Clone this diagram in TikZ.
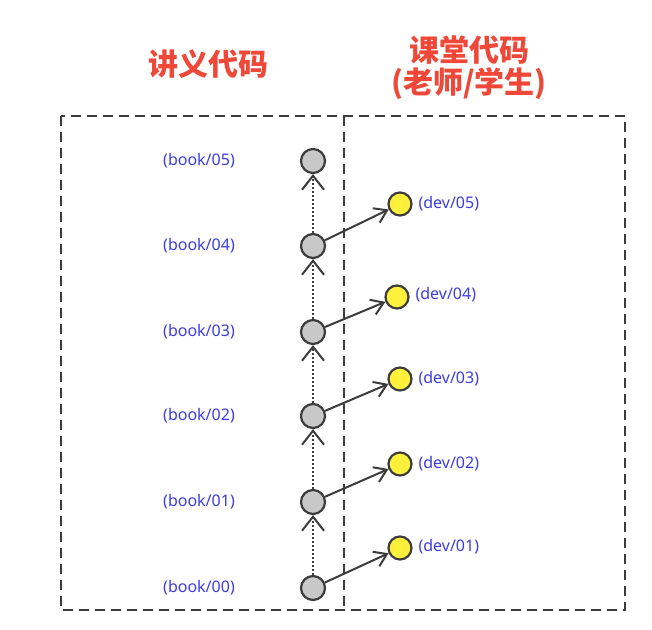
\documentclass[tikz,border=0pt]{standalone}
\usepackage{fontspec}
\setmainfont{Noto Sans}
\newfontfamily\cjk{Noto Sans CJK SC}
\usetikzlibrary{arrows.meta}
\definecolor{ttlred}{RGB}{240,72,56}
\definecolor{lblblue}{RGB}{60,60,225}
\definecolor{edge}{RGB}{60,60,60}
\definecolor{bookfill}{RGB}{200,200,200}
\definecolor{devfill}{RGB}{255,240,60}
\tikzset{
  title/.style={text=ttlred, font=\cjk\bfseries\fontsize{30}{36}\selectfont, align=center},
  book/.style={circle, draw=edge, line width=2.2pt, fill=bookfill, minimum size=24pt, inner sep=0pt},
  dev/.style={circle, draw=edge, line width=2.2pt, fill=devfill, minimum size=23pt, inner sep=0pt},
  lbl/.style={text=lblblue, font=\fontsize{16}{18}\selectfont},
  frame/.style={draw=edge, line width=2.2pt, dash pattern=on 10pt off 6pt},
  up/.style={draw=edge, line width=2pt, dash pattern=on 2pt off 2pt, -{Straight Barb[length=14pt,width=22pt,line width=2pt]}},
  fork/.style={draw=edge, line width=2pt, -{Straight Barb[length=12pt,width=16pt,line width=2pt]}}
}
\begin{document}
\begin{tikzpicture}[x=1pt,y=-1pt]
\useasboundingbox (0,0) rectangle (652,629);
\fill[white] (0,0) rectangle (652,629);
% frame
\coordinate (tl) at (61,116);
\coordinate (br) at (625,610);
\coordinate (dtop) at (344,116);
\coordinate (dbot) at (344,610);
\draw[frame] (tl) rectangle (br);
\draw[frame] (dtop) -- (dbot);
% titles
\node[title] (t1) at (208,64) {讲义代码};
\node[title] (t2) at (469,50) {课堂代码};
\node[title] (t3) at (469,84) {(老师/学生)};
% book nodes
\node[book] (b5) at (313,161) {};
\node[book] (b4) at (313,246) {};
\node[book] (b3) at (313,332) {};
\node[book] (b2) at (313,416) {};
\node[book] (b1) at (313,502) {};
\node[book] (b0) at (313,588) {};
\node[lbl] (lb5) at (199,161) {(book/05)};
\node[lbl] (lb4) at (199,246) {(book/04)};
\node[lbl] (lb3) at (199,332) {(book/03)};
\node[lbl] (lb2) at (199,416) {(book/02)};
\node[lbl] (lb1) at (199,502) {(book/01)};
\node[lbl] (lb0) at (199,588) {(book/00)};
% dev nodes
\node[dev] (d5) at (400,204) {};
\node[dev] (d4) at (397,297) {};
\node[dev] (d3) at (400,379) {};
\node[dev] (d2) at (400,464) {};
\node[dev] (d1) at (400,548) {};
\node[lbl, anchor=west] (ld5) at (415,204) {(dev/05)};
\node[lbl, anchor=west] (ld4) at (412,295) {(dev/04)};
\node[lbl, anchor=west] (ld3) at (415,379) {(dev/03)};
\node[lbl, anchor=west] (ld2) at (415,464) {(dev/02)};
\node[lbl, anchor=west] (ld1) at (415,547) {(dev/01)};
% history arrows
\draw[up] (b0) -- (b1);
\draw[up] (b1) -- (b2);
\draw[up] (b2) -- (b3);
\draw[up] (b3) -- (b4);
\draw[up] (b4) -- (b5);
% branch arrows
\draw[fork] (b4) -- (d5);
\draw[fork] (b3) -- (d4);
\draw[fork] (b2) -- (d3);
\draw[fork] (b1) -- (d2);
\draw[fork] (b0) -- (d1);
\end{tikzpicture}
\end{document}
